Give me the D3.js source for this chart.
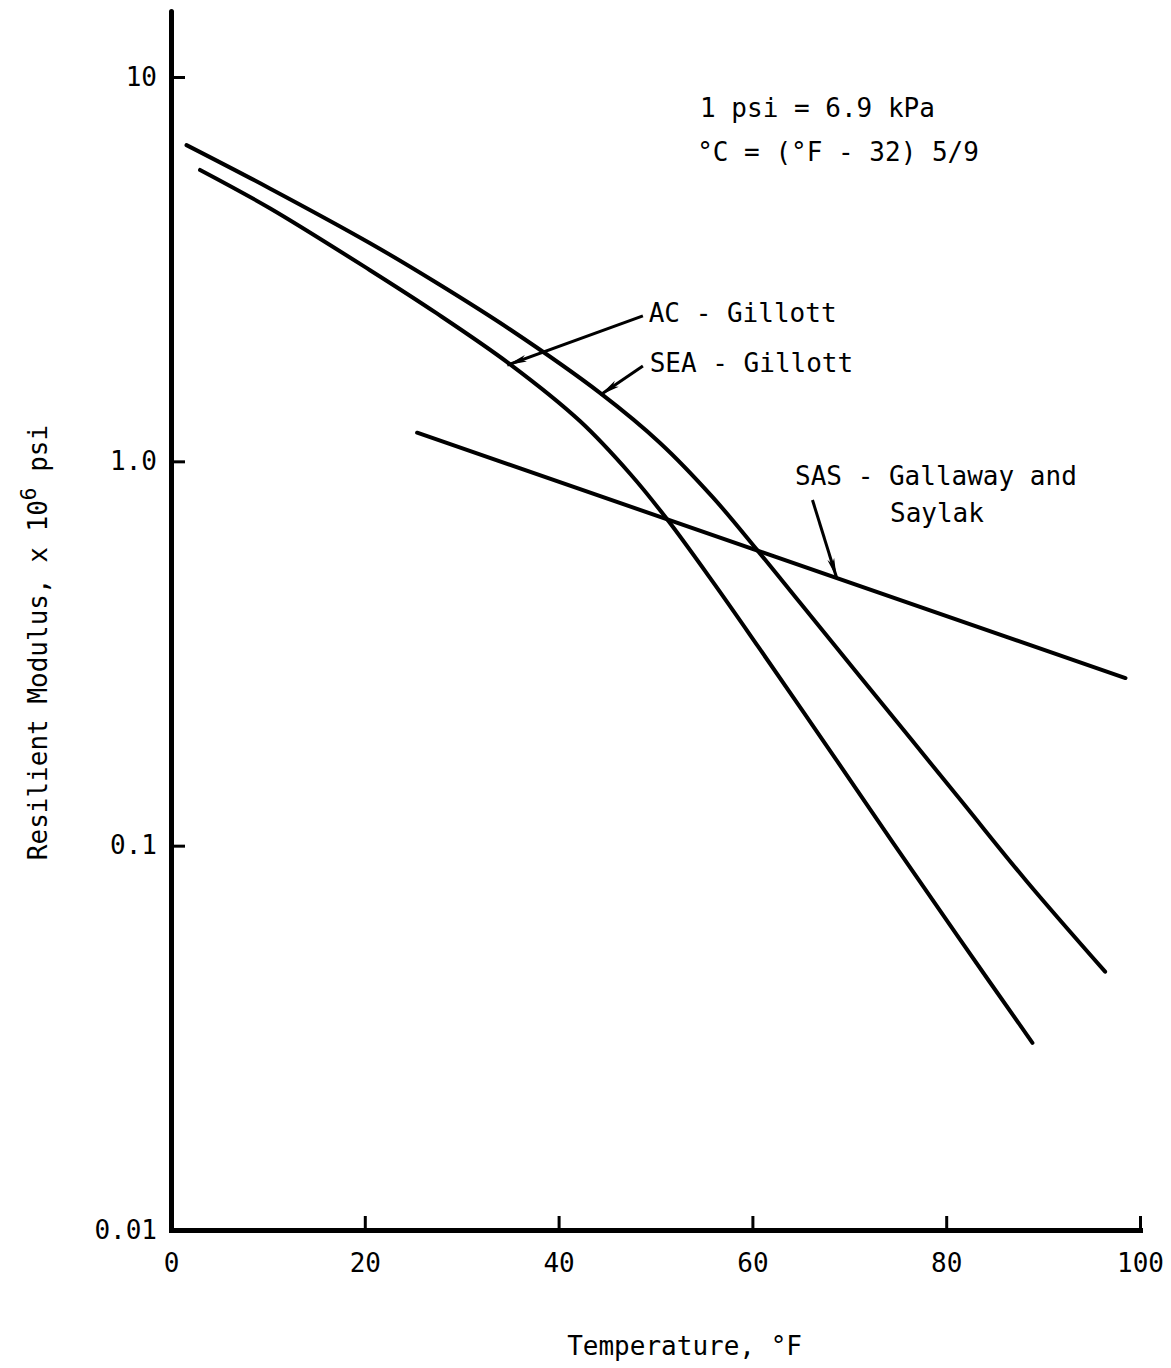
<!DOCTYPE html>
<html><head><meta charset="utf-8">
<script src="https://cdn.jsdelivr.net/npm/d3@7"></script>
<style>body{margin:0;background:#fff}</style>
</head><body>
<svg id="c" width="1171" height="1368"></svg>
<script>
// ---- data ----
const xTicks = [0, 20, 40, 60, 80, 100];
const xTickLabels = ["0", "20", "40", "60", "80", "100"];
const yTicks = [10, 1, 0.1, 0.01];
const yTickLabels = ["10", "1.0", "0.1", "0.01"];

const seaT = [1.6, 10.2, 20.5, 27.4, 35.0, 44.3, 50.5, 55.9, 60.5, 64.9, 71.1, 81.4, 88.3, 96.4];
const seaM = [6.65, 5.13, 3.70, 2.915, 2.203, 1.505, 1.115, 0.807, 0.5875, 0.4291, 0.2757, 0.1322, 0.0808, 0.0470];
const acT = [3.0, 10.2, 20.5, 27.4, 35.0, 42.2, 47.4, 51.2, 55.9, 60.6, 67.7, 74.5, 81.4, 88.9];
const acM = [5.73, 4.556, 3.147, 2.429, 1.788, 1.273, 0.927, 0.7066, 0.4864, 0.3295, 0.1814, 0.1019, 0.0571, 0.0307];
const sasT = [25.4, 98.5];
const sasM = [1.187, 0.273];

// annotation labels (temperature, modulus)
const labelText = ["AC - Gillott", "SEA - Gillott", "SAS - Gallaway and", "Saylak", "1 psi = 6.9 kPa", "°C = (°F - 32) 5/9"];
const labelT = [49.3, 49.4, 64.4, 74.2, 54.6, 54.3];
const labelM = [2.30, 1.708, 0.868, 0.695, 7.87, 6.04];

// arrows: tail -> tip
const arrowFromT = [48.7, 48.7, 66.2];
const arrowFromM = [2.39, 1.77, 0.793];
const arrowToT = [34.7, 44.3, 68.7];
const arrowToM = [1.78, 1.488, 0.497];

// ---- chart ----
const FONT = "'DejaVu Sans Mono', monospace";
const svg = d3.select("#c");
const x = d3.scaleLinear().domain([0, 100]).range([171, 1140]);
const y = d3.scaleLog().domain([0.01, 14.85]).range([1230, 11]);

svg.append("defs").append("marker")
  .attr("id", "arr").attr("viewBox", "0 0 20 8")
  .attr("refX", 20).attr("refY", 4)
  .attr("markerWidth", 20).attr("markerHeight", 8)
  .attr("markerUnits", "userSpaceOnUse").attr("orient", "auto")
  .append("path").attr("d", "M0,0.5 L20,4 L0,7.5 L5,4 z").attr("fill", "#000");

// axes
const xAxis = d3.axisBottom(x).tickValues(xTicks)
  .tickFormat((d, i) => xTickLabels[i]).tickSizeInner(-14).tickSizeOuter(0).tickPadding(24);
const gx = svg.append("g").attr("transform", `translate(0,${y(0.01)})`).call(xAxis);

const yAxis = d3.axisLeft(y).tickValues(yTicks)
  .tickFormat((d, i) => yTickLabels[i]).tickSizeInner(-14).tickSizeOuter(0).tickPadding(14);
const gy = svg.append("g").attr("transform", `translate(${x(0)},0)`).call(yAxis);

[gx, gy].forEach(g => {
  g.select(".domain").attr("stroke", "#000").attr("stroke-width", 5).attr("stroke-linecap", "square");
  g.selectAll(".tick line").attr("stroke", "#000").attr("stroke-width", 3);
  g.selectAll(".tick text").attr("font-family", FONT).attr("font-size", 26).attr("fill", "#000");
});
gy.select(".domain").attr("stroke-linecap", "round");

// curves
const line = d3.line().x(d => x(d[0])).y(d => y(d[1])).curve(d3.curveCatmullRom.alpha(0.5));
const series = [
  seaT.map((t, i) => [t, seaM[i]]),
  acT.map((t, i) => [t, acM[i]]),
  sasT.map((t, i) => [t, sasM[i]])
];
svg.selectAll("path.curve").data(series).enter().append("path")
  .attr("class", "curve").attr("d", line)
  .attr("fill", "none").attr("stroke", "#000").attr("stroke-width", 4).attr("stroke-linecap", "round");

// arrows
svg.selectAll("line.arrow").data(arrowFromT).enter().append("line")
  .attr("class", "arrow")
  .attr("x1", (d, i) => x(arrowFromT[i])).attr("y1", (d, i) => y(arrowFromM[i]))
  .attr("x2", (d, i) => x(arrowToT[i])).attr("y2", (d, i) => y(arrowToM[i]))
  .attr("stroke", "#000").attr("stroke-width", 3).attr("marker-end", "url(#arr)");

// labels
svg.selectAll("text.lab").data(labelText).enter().append("text")
  .attr("class", "lab")
  .attr("x", (d, i) => x(labelT[i])).attr("y", (d, i) => y(labelM[i]))
  .attr("font-family", FONT).attr("font-size", 26).attr("fill", "#000")
  .text(d => d);

// axis titles
svg.append("text").attr("x", x(53)).attr("y", 1355)
  .attr("text-anchor", "middle").attr("font-family", FONT).attr("font-size", 26)
  .text("Temperature, °F");

const yt = svg.append("text")
  .attr("transform", `translate(47,${(y(0.01) + y(14.85)) / 2 + 22}) rotate(-90)`)
  .attr("text-anchor", "middle").attr("font-family", FONT).attr("font-size", 26);
yt.append("tspan").text("Resilient Modulus, x 10");
yt.append("tspan").attr("dy", -11).attr("font-size", 21).text("6");
yt.append("tspan").attr("dy", 11).text(" psi");
</script>
</body></html>
